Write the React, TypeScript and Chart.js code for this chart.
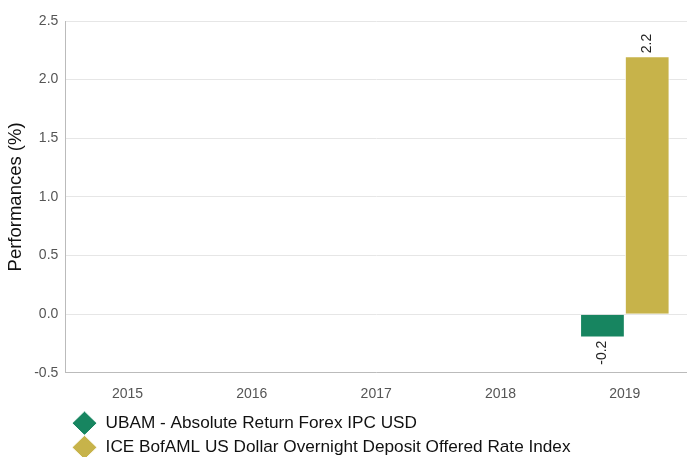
import React, { useEffect, useRef } from "react";
import { Chart, registerables } from "chart.js";

Chart.register(...registerables);

const categories = ["2015", "2016", "2017", "2018", "2019"];
const fundName = "UBAM - Absolute Return Forex IPC USD";
const indexName = "ICE BofAML US Dollar Overnight Deposit Offered Rate Index";
const fundValues: (number | null)[] = [null, null, null, null, -0.2];
const indexValues: (number | null)[] = [null, null, null, null, 2.2];
const yTicks = [-0.5, 0, 0.5, 1, 1.5, 2, 2.5];

const FONT = "'Liberation Sans', Arial, sans-serif";
const LEGEND_SHIFT = 60;

const barLabels = {
  id: "barLabels",
  afterDatasetsDraw(chart: any) {
    const ctx = chart.ctx;
    ctx.save();
    ctx.font = `14px ${FONT}`;
    ctx.fillStyle = "#222";
    ctx.textBaseline = "middle";
    chart.data.datasets.forEach((ds: any, i: number) => {
      const meta = chart.getDatasetMeta(i);
      meta.data.forEach((el: any, j: number) => {
        const v = ds.data[j];
        if (v === null || v === undefined) return;
        ctx.save();
        ctx.translate(el.x, el.y);
        ctx.rotate(-Math.PI / 2);
        if (v >= 0) {
          ctx.textAlign = "left";
          ctx.fillText(v.toFixed(1), 3, 0);
        } else {
          ctx.textAlign = "right";
          ctx.fillText(v.toFixed(1), -3, 0);
        }
        ctx.restore();
      });
    });
    ctx.restore();
  },
};

const legendShift = {
  id: "legendShift",
  afterLayout(chart: any) {
    const lg = chart.legend;
    if (lg) {
      lg.left += LEGEND_SHIFT;
      lg.right += LEGEND_SHIFT;
    }
  },
};

export default function App() {
  const ref = useRef<HTMLCanvasElement>(null);
  useEffect(() => {
    if (!ref.current) return;
    const chart = new Chart(ref.current, {
      type: "bar",
      data: {
        labels: categories,
        datasets: [
          {
            label: fundName,
            data: fundValues,
            backgroundColor: "#178560",
            borderColor: "#ffffff",
            borderWidth: 1,
            pointStyle: "rectRot",
          } as any,
          {
            label: indexName,
            data: indexValues,
            backgroundColor: "#C7B34A",
            borderColor: "#ffffff",
            borderWidth: 1,
            pointStyle: "rectRot",
          } as any,
        ],
      },
      options: {
        responsive: false,
        animation: false,
        devicePixelRatio: 1,
        layout: { padding: { top: 21, right: 0, left: 5, bottom: -9 } },
        datasets: { bar: { categoryPercentage: 0.72, barPercentage: 1 } },
        plugins: {
          legend: {
            position: "bottom",
            align: "start",
            labels: {
              usePointStyle: true,
              pointStyle: "rectRot",
              boxWidth: 18,
              boxHeight: 18,
              pointStyleWidth: 25,
              padding: 7,
              color: "#111",
              font: { family: FONT, size: 17.2 },
            },
          },
          tooltip: { enabled: false },
        },
        scales: {
          x: {
            grid: { display: false },
            border: { color: "#bbbbbb" },
            ticks: { color: "#555", font: { family: FONT, size: 14 }, padding: 5 },
          },
          y: {
            min: -0.5,
            max: 2.5,
            afterBuildTicks: (scale: any) => {
              scale.ticks = yTicks.map((v) => ({ value: v }));
            },
            grid: { color: "#e6e6e6", drawTicks: false },
            border: { color: "#bbbbbb" },
            ticks: {
              color: "#555",
              font: { family: FONT, size: 14 },
              padding: 7,
              callback: (v: any) => Number(v).toFixed(1),
            },
            title: {
              display: true,
              text: "Performances (%)",
              color: "#111",
              font: { family: FONT, size: 18.5 },
              padding: { top: 0, bottom: 0 },
            },
          },
        },
      },
      plugins: [barLabels, legendShift],
    } as any);
    return () => chart.destroy();
  }, []);
  return (
    <div style={{ position: "absolute", left: 0, top: 0, width: 687, height: 457, background: "#fff" }}>
      <canvas ref={ref} width={687} height={457} style={{ display: "block" }} />
    </div>
  );
}
